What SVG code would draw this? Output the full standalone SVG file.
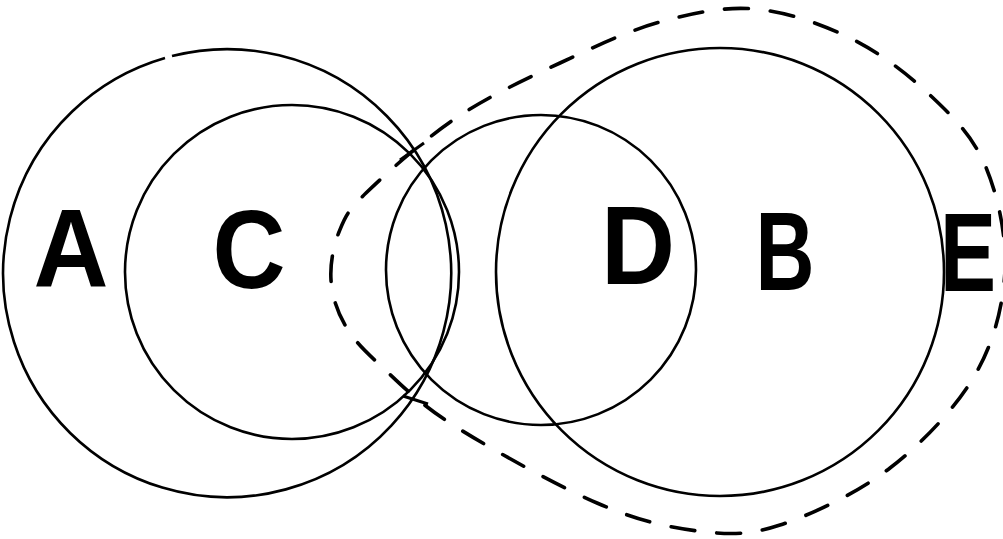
<svg xmlns="http://www.w3.org/2000/svg" width="1003" height="539" viewBox="0 0 1003 539">
<style>
.c{fill:none;stroke:#000;stroke-width:2.6}
.d{fill:none;stroke:#000;stroke-width:3.6;stroke-dasharray:24 22;stroke-linecap:round}
.t{fill:none;stroke:#000;stroke-width:3}
.l{font-family:"Liberation Sans",Arial,sans-serif;font-weight:bold;font-size:112px;fill:#000;text-anchor:middle}
</style>
<rect width="1003" height="539" fill="#fff"/>
<g id="E">
<path class="d" d="M331,280 C330,264.5 333.2,246.5 339,232 C344.8,217.5 346.5,212 366,193 C385.5,174 423.7,139.7 456,118 C488.3,96.3 526,79 560,63 C594,47 627.5,31 660,22 C692.5,13 723.3,6.3 755,9 C786.7,11.7 820.8,23.7 850,38 C879.2,52.3 907.5,73.8 930,95 C952.5,116.2 972.5,135.8 985,165 C997.5,194.2 1006.7,235 1005,270 C1003.3,305 994.2,342 975,375 C955.8,408 922.5,443 890,468 C857.5,493 812,514.5 780,525 C748,535.5 728.5,534.7 698,531 C667.5,527.3 637.8,520.7 597,503 C556.2,485.3 489.2,448 453,425 C416.8,402 398,381.7 380,365 C362,348.3 353.2,339.2 345,325 C336.8,310.8 332,295.5 331,280 Z"/>
<text class="l" x="968" y="291" textLength="56" lengthAdjust="spacingAndGlyphs">E</text>
</g>
<g id="A">
<path class="c" d="M172,56.1 A224,224 0 1 1 165,58"/>
<text class="l" x="71" y="287" textLength="75" lengthAdjust="spacingAndGlyphs">A</text>
</g>
<g id="C">
<circle class="c" cx="292" cy="272" r="167"/>
<text class="l" x="249" y="288" textLength="73" lengthAdjust="spacingAndGlyphs">C</text>
</g>
<g id="D">
<circle class="c" cx="541" cy="270" r="155"/>
<text class="l" x="638" y="284" textLength="74" lengthAdjust="spacingAndGlyphs">D</text>
</g>
<g id="B">
<circle class="c" cx="720" cy="272" r="224"/>
<text class="l" x="785" y="290" textLength="59" lengthAdjust="spacingAndGlyphs">B</text>
</g>
<g id="connectors">
<line class="t" x1="400" y1="160" x2="424" y2="143"/>
<line class="t" x1="403" y1="396" x2="428" y2="404"/>
</g>
</svg>
